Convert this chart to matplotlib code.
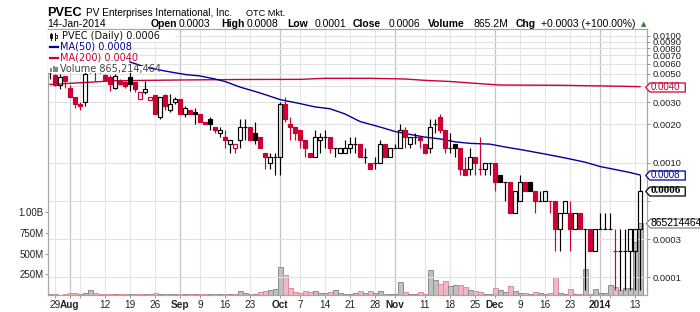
import matplotlib
matplotlib.use("Agg")
import matplotlib.pyplot as plt
import matplotlib.transforms as mtransforms
from matplotlib.path import Path
from matplotlib.patches import Rectangle
from matplotlib.lines import Line2D
from matplotlib.ticker import NullLocator
import numpy as np

plt.rcParams['font.family'] = ['Liberation Sans', 'DejaVu Sans']

# prices in ten-thousandths of a dollar, day index -1 = 26-Jul-2013 ... 117 = 14-Jan-2014
opens = [52, 49, 41, 48, 39, 33, 29, 30, 53, 60, 54, 49, 47, 39, 44, 43, 47, 43, 32, 36,
         31, 34, 23, 34, 26, 30, 32, 24, 26, 25, 24, 21, 22, 19, 17, 16, 14, 13, 15, 19,
         19, 17, 16, 12, 10, 11, 11, 29, 20, 19, 18, 15, 12, 11, 15, 16, 16, 13, 12, 12,
         13, 14, 14, 11, 10, 10, 10, 14, 11, 13, 13, 18, 14, 16, 16, 14, 13, 20, 23, 18,
         13, 14, 13, 9, 9, 11, 9, 9, 10, 10, 8, 7, 7, 4, 5, 7, 7, 6, 5, 5,
         5, 5, 3, 4, 4, 3, 4, 3, 3, 2, 3, 3, 3, 2, 2, 2, 2, 2, 3]
highs = [56, 50, 50, 48, 41, 33, 30, 55, 62, 62, 58, 50, 49, 50, 46, 44, 52, 43, 36, 44,
         33, 34, 33, 35, 35, 33, 32, 28, 26, 27, 24, 21, 23, 19, 19, 18, 15, 14, 22, 22,
         19, 21, 16, 12, 12, 12, 30, 33, 23, 19, 18, 15, 12, 18, 17, 18, 16, 13, 13, 15,
         16, 16, 14, 13, 10, 11, 15, 14, 13, 14, 20, 19, 16, 17, 16, 14, 22, 22, 24, 18,
         17, 14, 13, 11, 13, 11, 16, 10, 10, 10, 8, 7, 7, 6, 8, 7, 7, 6, 6, 6,
         5, 5, 4, 5, 5, 4, 4, 3, 3, 3, 4, 4, 4, 3, 3, 3, 3, 3, 8]
lows = [46, 40, 38, 39, 33, 27, 26, 28, 51, 44, 51, 44, 37, 38, 41, 39, 37, 36, 32, 35,
        31, 24, 22, 26, 25, 29, 24, 23, 24, 20, 21, 20, 18, 17, 16, 13, 12, 12, 13, 15,
        15, 14, 13, 9, 9, 8, 8, 21, 15, 15, 13, 11, 11, 11, 12, 13, 12, 11, 12, 12,
        12, 12, 11, 10, 9, 9, 10, 11, 11, 13, 13, 13, 13, 14, 13, 12, 12, 17, 17, 12,
        12, 11, 8, 8, 8, 8, 8, 8, 8, 6, 7, 5, 4, 4, 5, 6, 6, 4, 5, 5,
        4, 2, 2, 4, 2, 3, 3, 1, 2, 2, 3, 3, 3, 1, 1, 1, 1, 1, 1]
closes = [53, 41, 47, 44, 33, 29, 28, 50, 58, 53, 52, 45, 42, 48, 42, 40, 42, 38, 36, 38,
          33, 24, 33, 28, 29, 32, 24, 27, 24, 24, 21, 20, 20, 18, 18, 15, 15, 14, 19, 19,
          15, 15, 13, 11, 11, 11, 29, 22, 19, 17, 15, 13, 11, 16, 16, 16, 13, 13, 13, 13,
          14, 14, 11, 11, 9, 10, 14, 11, 13, 13, 18, 16, 16, 16, 15, 12, 19, 20, 18, 13,
          13, 13, 9, 8, 11, 10, 9, 10, 10, 7, 7, 7, 4, 6, 7, 6, 6, 5, 5, 6,
          5, 3, 4, 5, 3, 4, 3, 3, 2, 3, 3, 3, 3, 2, 2, 2, 3, 3, 6]

# volume in millions of shares
volumes = [12, 8, 6, 12, 20, 20, 8, 20, 64, 28, 12, 12, 12, 12, 8, 12, 8, 8, 12, 16,
           8, 28, 16, 16, 8, 8, 16, 8, 8, 16, 16, 8, 8, 8, 8, 16, 16, 16, 52, 24,
           8, 12, 40, 52, 64, 76, 340, 245, 80, 40, 28, 52, 40, 52, 20, 28, 40, 64, 28, 12,
           12, 28, 52, 28, 52, 28, 52, 12, 12, 12, 160, 40, 12, 12, 40, 12, 300, 185, 132, 172,
           112, 120, 120, 100, 64, 52, 40, 8, 16, 84, 64, 40, 108, 52, 24, 20, 12, 40, 24, 12,
           28, 216, 28, 12, 76, 12, 12, 316, 12, 72, 20, 20, 120, 96, 60, 84, 88, 640, 865.214464]

ma50_days = [15, 18, 22, 26, 29, 32, 34, 37, 40, 42, 45, 47, 49, 52, 55, 58, 61, 65, 68,
             71, 74, 77, 80, 83, 85, 87, 90, 93, 95, 98, 101, 103, 106, 109, 112, 115, 117]
ma50 = [62.1, 56.7, 52.7, 49.5, 48.2, 45.6, 43.6, 39.4, 36.4, 34.4, 31.4, 30.3, 29.2, 27.5,
        26.6, 24.2, 21.1, 19.1, 17.6, 16.7, 15.9, 15.4, 14.6, 14.2, 14.1, 14.0, 13.3, 12.7,
        12.3, 11.7, 11.1, 10.7, 10.1, 9.33, 8.84, 8.37, 8.0]
ma200_days = [-1, 5, 12, 25, 37, 49, 54, 63, 70, 74, 79, 85, 89, 101, 113, 117]
ma200 = [41.3, 42.6, 44.2, 44.8, 45.2, 45.3, 46.2, 46.2, 45.6, 44.5, 43.6, 41.9, 40.9,
         40.7, 40.0, 39.7]

x_labels = ["29", "Aug", "12", "19", "26", "Sep", "9", "16", "23", "Oct", "7", "14", "21",
            "28", "Nov", "11", "18", "25", "Dec", "9", "16", "23", "2014", "13"]
x_label_days = [0, 3, 10, 15, 20, 25, 29, 34, 39, 45, 49, 54, 59, 64, 68, 74, 79, 84, 88,
                93, 98, 103, 109, 116]
month_days = [3, 25, 45, 68, 88, 109]
week_days = [0, 5, 10, 15, 20, 29, 34, 39, 49, 54, 59, 64, 74, 79, 84, 93, 98, 103, 107,
             111, 116]

price_ticks = [100, 90, 80, 70, 60, 50, 40, 30, 20, 10, 5, 2.5, 1.25]
price_tick_labels = ["0.0100", "0.0090", "0.0080", "0.0070", "0.0060", "0.0050", "",
                     "0.0030", "0.0020", "0.0010", "", "0.0003", "0.0001"]
vol_ticks = [250, 500, 750, 1000]
vol_tick_labels = ["250M", "500M", "750M", "1.00B"]

RED = '#cc0033'
BLUE = '#000099'
UNIT = 1e-4

W, H = 700, 312
fig = plt.figure(figsize=(7, 3.12), dpi=100)
fig.patch.set_facecolor('white')


def fx(px):
    return px / W


def fy(py):
    return 1 - py / H


def price_at(py):
    # log scale: 0.0100 sits at y=35.7 px, 127 px per decade
    return 10 ** (-2 - (py - 35.7) / 127) / UNIT


L, R, T, B = 47.7, 646.7, 29.3, 295.0
axv = fig.add_axes([fx(L), fy(B), (R - L) / W, (B - T) / H])
axp = axv.twinx()

days = np.arange(-1, len(closes) - 1)
o = np.array(opens, float)
h = np.array(highs, float)
l = np.array(lows, float)
c = np.array(closes, float)
prev = np.concatenate([[c[0]], c[:-1]])
up = c >= prev

# ---- volume (left axis)
axv.set_xlim((L - 55) / 5, (R - 55) / 5)
axv.set_ylim(0, (B - T) / 83 * 1000)
for d in week_days:
    axv.axvline(d, color='#e6e6e6', lw=0.8, zorder=0)
for d in month_days:
    axv.axvline(d, color='#c4c4c4', lw=0.9, zorder=0)
axv.bar(days, volumes, width=1.0,
        color=np.where(up, '#c0c0c0', '#eebac1'),
        edgecolor=np.where(up, '#8e8e8e', '#dc8d9b'), linewidth=0.7, zorder=2)
axv.set_yticks(vol_ticks)
axv.set_yticklabels(vol_tick_labels)
axv.tick_params(axis='y', labelsize=7, length=2, width=0.6, color='#888888', pad=1,
                labelcolor='#222222')

grid_days = sorted(week_days + month_days)
axv.set_xticks(grid_days)
axv.set_xticklabels([x_labels[x_label_days.index(d)] if d in x_label_days else ""
                     for d in grid_days])
for lbl, d in zip(axv.get_xticklabels(), grid_days):
    if d in month_days:
        lbl.set_fontweight('bold')
axv.tick_params(axis='x', labelsize=7.2, length=2, width=0.6, color='#888888', pad=1.5,
                labelcolor='#222222')

# ---- price (right axis, log)
axp.set_yscale('log')
axp.set_ylim(price_at(B), price_at(T))
axp.yaxis.set_minor_locator(NullLocator())
for p in price_ticks:
    axp.axhline(p, color='#e2e2e2', lw=0.8, zorder=0)
axp.set_yticks(price_ticks)
axp.set_yticklabels(price_tick_labels)
axp.tick_params(axis='y', labelsize=6.8, length=2.5, width=0.6, color='#888888', pad=1.5,
                labelcolor='#222222')

axp.plot(ma200_days, ma200, color=RED, lw=1.0, zorder=3)
axp.plot(ma50_days, ma50, color=BLUE, lw=1.0, zorder=3)

col = np.where(up, 'black', RED)
top = np.maximum(o, c)
bot = np.minimum(o, c)
axp.vlines(days, l, bot, colors=col, lw=0.85, zorder=4)
axp.vlines(days, top, h, colors=col, lw=0.85, zorder=4)
for d, ob, cb, tp, bt, cl in zip(days, o, c, top, bot, col):
    if cb > ob:
        axp.bar(d, tp - bt, bottom=bt, width=0.72, facecolor='none', edgecolor=cl,
                linewidth=0.85, zorder=5)
    elif cb < ob:
        axp.bar(d, tp - bt, bottom=bt, width=0.72, facecolor=cl, edgecolor=cl,
                linewidth=0.85, zorder=5)
    else:
        axp.hlines(cb, d - 0.45, d + 0.45, colors=cl, lw=0.85, zorder=5)

for ax in (axv, axp):
    for s in ax.spines.values():
        s.set_color('#a6a6a6')
        s.set_linewidth(0.8)


# ---- value tags at right edge
def tag(ax, value, text, edge, tcolor, x0, x1, weight='normal', family=None, size=7):
    hw = (x1 - x0) / 2
    verts = [(-hw, 0), (-hw + 4, 4.5), (hw, 4.5), (hw, -4.5), (-hw + 4, -4.5), (-hw, 0)]
    path = Path(verts, closed=True)
    tr = mtransforms.blended_transform_factory(fig.transFigure, ax.transData)
    ax.plot([fx((x0 + x1) / 2)], [value], marker=path, markersize=2 * hw * 0.72,
            mfc='white', mec=edge, mew=0.9, transform=tr, clip_on=False, zorder=10)
    kw = dict(fontsize=size, color=tcolor, va='center', ha='left', transform=tr,
              clip_on=False, zorder=11, fontweight=weight)
    if family:
        kw['family'] = family
    ax.text(fx(x0 + 5), value, text, **kw)


tag(axp, ma200[-1], f"{ma200[-1] * UNIT:.4f}", RED, RED, 645.5, 685)
tag(axp, ma50[-1], f"{ma50[-1] * UNIT:.4f}", BLUE, BLUE, 645.5, 685)
tag(axp, closes[-1], f"{closes[-1] * UNIT:.4f}", 'black', 'black', 645.5, 685,
    weight='bold', family='Liberation Serif', size=8)
tag(axv, volumes[-1], f"{int(round(volumes[-1] * 1e6))}", '#888888', 'black', 645.5, 720,
    size=7.4)


# ---- legend block (top-left, white behind)
def prect(x0, y0, x1, y1, **kw):
    r = Rectangle((fx(x0), fy(y1)), (x1 - x0) / W, (y1 - y0) / H,
                  transform=fig.transFigure, **kw)
    fig.add_artist(r)


prect(48.2, 29.8, 175, 41.5, facecolor='white', edgecolor='none', zorder=1.5)
prect(48.2, 41.5, 129, 66, facecolor='white', edgecolor='none', zorder=1.5)
prect(48.2, 66, 148, 73.3, facecolor='white', edgecolor='none', zorder=1.5)

LF = dict(family=['DejaVu Sans'], fontsize=7, va='center', ha='left', zorder=3)
fig.text(fx(61.5), fy(35.7), "PVEC (Daily) 0.0006", color='#111111', **LF)
fig.text(fx(60), fy(46.7), "MA(50) 0.0008", color=BLUE, **LF)
fig.text(fx(60), fy(58), "MA(200) 0.0040", color=RED, **LF)
fig.text(fx(60), fy(68.7), "Volume 865,214,464", color='#444444', **LF)

# legend icons
for xa, y0, y1 in [(51, 32.5, 39.5), (55.5, 32.5, 39.5)]:
    fig.add_artist(Line2D([fx(xa), fx(xa)], [fy(y0), fy(y1)], transform=fig.transFigure,
                          color='black', lw=0.7, zorder=3))
prect(50, 34, 52, 37.5, facecolor='black', edgecolor='black', lw=0.5, zorder=3)
prect(54.5, 34.5, 56.5, 38, facecolor='white', edgecolor='black', lw=0.6, zorder=3)
fig.add_artist(Line2D([fx(50), fx(58)], [fy(46.7), fy(46.7)], transform=fig.transFigure,
                      color=BLUE, lw=1.6, zorder=3))
fig.add_artist(Line2D([fx(50), fx(58)], [fy(58), fy(58)], transform=fig.transFigure,
                      color=RED, lw=1.6, zorder=3))
for x0, ht in [(50, 4), (52.7, 6.5), (55.4, 5)]:
    prect(x0, 72 - ht, x0 + 2.2, 72, facecolor='#888888', edgecolor='none', zorder=3)

# ---- header
fig.text(fx(47.5), fy(16), "PVEC", fontsize=9.2, fontweight='bold', va='baseline')
fig.text(fx(85.5), fy(16), "PV Enterprises International, Inc.", fontsize=7.2,
         va='baseline')
fig.text(fx(246.5), fy(16), "OTC Mkt.", fontsize=6.6, va='baseline')
fig.text(fx(47.5), fy(27), "14-Jan-2014", fontsize=7.5, va='baseline')
header_parts = [(150.7, "Open", True), (179, "0.0003", False),
                (221, "High", True), (246.7, "0.0008", False),
                (287, "Low", True), (315, "0.0001", False),
                (353, "Close", True), (389, "0.0006", False),
                (427.7, "Volume", True), (474, "865.2M", False),
                (516, "Chg", True), (540.7, "+0.0003 (+100.00%)", False)]
for xp, txt, bold in header_parts:
    fig.text(fx(xp), fy(27), txt, fontsize=7.5, va='baseline',
             fontweight='bold' if bold else 'normal')
fig.text(fx(643.5), fy(26.5), "▲", fontsize=5, color='#2e7d32', va='baseline',
         ha='center', family=['DejaVu Sans'])

fig.savefig("out.png", dpi=100, facecolor='white')
